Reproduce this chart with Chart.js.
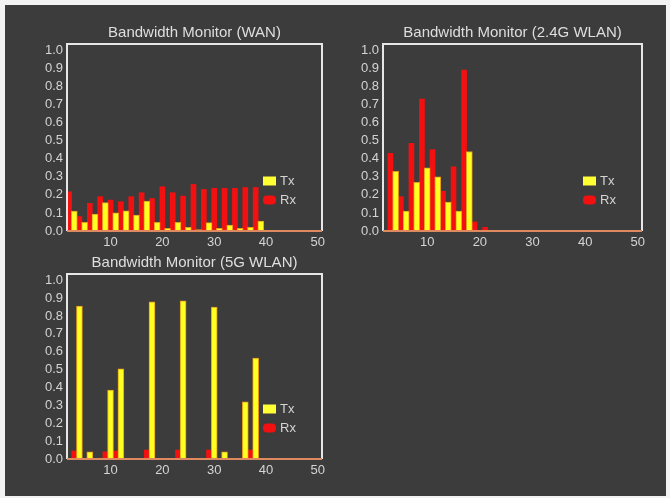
<!DOCTYPE html>
<html>
<head>
<meta charset="utf-8">
<script src="https://cdn.jsdelivr.net/npm/chart.js@4.4.1/dist/chart.umd.min.js"></script>
<style>
    html, body { margin: 0; padding: 0; }
    body { width: 670px; height: 498px; background: #f3f3f3; position: relative; overflow: hidden; }
    #frame { position: absolute; left: 5px; top: 5px; width: 661px; height: 491px; background: #3c3c3c; }
    .chart-box { position: absolute; }
    #wanBox { left: 30px; top: 22px; width: 300px; height: 227px; }
    #wlan24Box { left: 346px; top: 22px; width: 304px; height: 227px; }
    #wlan5Box { left: 30px; top: 252px; width: 300px; height: 225px; }
</style>
</head>
<body>
<div id="frame"></div>
<div class="chart-box" id="wanBox"><canvas id="wanChart"></canvas></div>
<div class="chart-box" id="wlan24Box"><canvas id="wlan24Chart"></canvas></div>
<div class="chart-box" id="wlan5Box"><canvas id="wlan5Chart"></canvas></div>
<script>
// axis ticks
const xTicks = [10, 20, 30, 40, 50];
const yTicks = [0, 0.1, 0.2, 0.3, 0.4, 0.5, 0.6, 0.7, 0.8, 0.9, 1.0];

// WAN
const wanTxPos = [3, 5, 7, 9, 11, 13, 15, 17, 19, 21, 23, 25, 27, 29, 31, 33, 35, 37, 39];
const wanTx = [0.11, 0.048, 0.094, 0.157, 0.101, 0.112, 0.088, 0.166, 0.048, 0.015, 0.048, 0.02, 0.008, 0.046, 0.015, 0.033, 0.015, 0.02, 0.055];
const wanRxPos = [2, 4, 6, 8, 10, 12, 14, 16, 18, 20, 22, 24, 26, 28, 30, 32, 34, 36, 38];
const wanRx = [0.217, 0.08, 0.153, 0.19, 0.171, 0.162, 0.19, 0.212, 0.18, 0.245, 0.212, 0.193, 0.258, 0.23, 0.236, 0.236, 0.236, 0.241, 0.241];

// 2.4G WLAN
const wlan24TxPos = [4, 6, 8, 10, 12, 14, 16, 18];
const wlan24Tx = [0.33, 0.11, 0.27, 0.35, 0.30, 0.16, 0.11, 0.44];
const wlan24RxPos = [3, 5, 7, 9, 11, 13, 15, 17, 19, 21];
const wlan24Rx = [0.43, 0.19, 0.485, 0.73, 0.45, 0.22, 0.355, 0.89, 0.05, 0.02];

// 5G WLAN
const wlan5TxPos = [4, 6, 10, 12, 18, 24, 30, 32, 36, 38];
const wlan5Tx = [0.855, 0.04, 0.385, 0.505, 0.88, 0.885, 0.85, 0.04, 0.32, 0.565];
const wlan5RxPos = [3, 9, 11, 17, 23, 29, 37];
const wlan5Rx = [0.045, 0.04, 0.045, 0.05, 0.05, 0.05, 0.05];

Chart.defaults.font.family = "'Liberation Sans', Arial, sans-serif";
Chart.defaults.color = '#d4d4d4';

/**
 * One bandwidth panel (Tx / Rx bars)
 */
class BandwidthChart {
    constructor(canvasId, title, txPos, txValues, rxPos, rxValues) {
        this.canvasId = canvasId;
        this.title = title;
        this.txData = txPos.map((x, i) => ({ x: x, y: txValues[i] }));
        this.rxData = rxPos.map((x, i) => ({ x: x, y: rxValues[i] }));
        this.chart = null;

        this.initializeChart();
    }

    initializeChart() {
        const ctx = document.getElementById(this.canvasId).getContext('2d');

        this.chart = new Chart(ctx, {
            type: 'bar',
            data: {
                datasets: [
                    {
                        label: 'Tx',
                        data: this.txData,
                        backgroundColor: '#ffff22',
                        borderColor: '#e89a1a',
                        borderWidth: 1,
                        barThickness: 6,
                        grouped: false
                    },
                    {
                        label: 'Rx',
                        data: this.rxData,
                        backgroundColor: '#f21010',
                        borderWidth: 0,
                        barThickness: 5,
                        grouped: false
                    }
                ]
            },
            plugins: [this.createFramePlugin(), this.createLegendPlugin()],
            options: {
                responsive: true,
                maintainAspectRatio: false,
                animation: false,
                layout: { padding: { right: 8 } },
                scales: {
                    x: {
                        type: 'linear',
                        min: 1.6,
                        max: 50.8,
                        offset: false,
                        grid: { display: false, drawTicks: false, offset: false },
                        border: { display: false },
                        afterBuildTicks: (axis) => {
                            axis.ticks = xTicks.map(v => ({ value: v }));
                        },
                        afterFit: (axis) => { axis.height = 18; },
                        ticks: {
                            padding: 4,
                            maxRotation: 0,
                            autoSkip: false,
                            font: { size: 13 },
                            color: '#d4d4d4'
                        }
                    },
                    y: {
                        min: 0,
                        max: 1.035,
                        grid: { display: false, drawTicks: false },
                        border: { display: false },
                        afterBuildTicks: (axis) => {
                            axis.ticks = yTicks.map(v => ({ value: v }));
                        },
                        afterFit: (axis) => { axis.width = 37; },
                        ticks: {
                            padding: 4,
                            autoSkip: false,
                            font: { size: 13 },
                            color: '#d4d4d4',
                            callback: function(value) {
                                return value.toFixed(1);
                            }
                        }
                    }
                },
                plugins: {
                    title: {
                        display: true,
                        text: this.title,
                        fullSize: false,
                        color: '#dedede',
                        font: { size: 15, weight: 'normal' },
                        padding: { top: 2, bottom: 2 }
                    },
                    legend: { display: false },
                    tooltip: { enabled: false }
                }
            }
        });
    }

    // white box round the plot, orange base line
    createFramePlugin() {
        return {
            id: 'plotFrame',
            afterDatasetsDraw: (chart) => {
                const ctx = chart.ctx;
                const a = chart.chartArea;
                ctx.save();
                ctx.lineWidth = 2;
                ctx.strokeStyle = '#e6e6e6';
                ctx.beginPath();
                ctx.moveTo(a.left, a.bottom);
                ctx.lineTo(a.left, a.top);
                ctx.lineTo(a.right, a.top);
                ctx.lineTo(a.right, a.bottom);
                ctx.stroke();
                ctx.strokeStyle = '#de8a5e';
                ctx.beginPath();
                ctx.moveTo(a.left, a.bottom);
                ctx.lineTo(a.right, a.bottom);
                ctx.stroke();
                ctx.restore();
            }
        };
    }

    // legend drawn inside the plot, lower right
    createLegendPlugin() {
        return {
            id: 'innerLegend',
            afterDraw: (chart) => {
                const ctx = chart.ctx;
                const a = chart.chartArea;
                const x = a.right - 59;
                const rows = [
                    { y: a.bottom - 50, ds: chart.data.datasets[0], round: 0 },
                    { y: a.bottom - 31, ds: chart.data.datasets[1], round: 4 }
                ];
                ctx.save();
                ctx.font = "13px 'Liberation Sans', Arial, sans-serif";
                ctx.textBaseline = 'middle';
                rows.forEach(row => {
                    ctx.fillStyle = row.ds.label === 'Tx' ? '#ffff33' : '#f21010';
                    ctx.beginPath();
                    ctx.roundRect(x, row.y - 4.5, 13, 9, row.round);
                    ctx.fill();
                    ctx.fillStyle = '#d4d4d4';
                    ctx.fillText(row.ds.label, x + 17, row.y);
                });
                ctx.restore();
            }
        };
    }
}

new BandwidthChart('wanChart', 'Bandwidth Monitor (WAN)', wanTxPos, wanTx, wanRxPos, wanRx);
new BandwidthChart('wlan24Chart', 'Bandwidth Monitor (2.4G WLAN)', wlan24TxPos, wlan24Tx, wlan24RxPos, wlan24Rx);
new BandwidthChart('wlan5Chart', 'Bandwidth Monitor (5G WLAN)', wlan5TxPos, wlan5Tx, wlan5RxPos, wlan5Rx);
</script>
</body>
</html>
